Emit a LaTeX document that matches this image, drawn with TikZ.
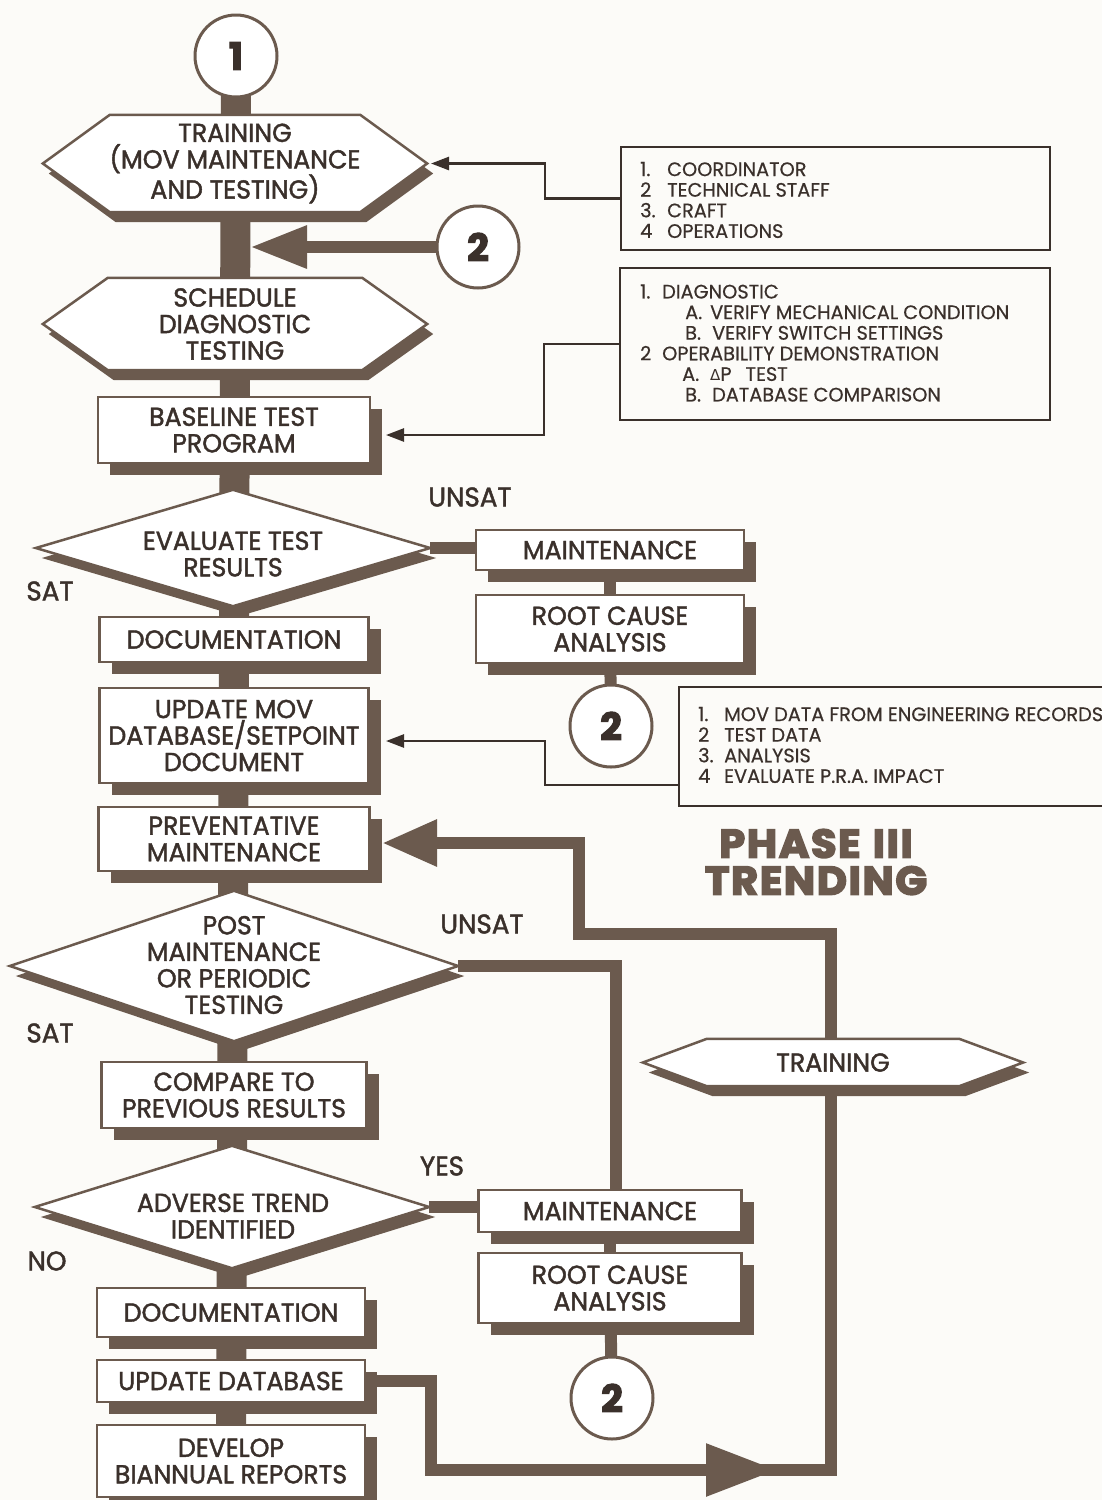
\documentclass[tikz,border=0pt]{standalone}
\usepackage{fontspec}
\usetikzlibrary{shadows,arrows.meta,calc}
\newfontfamily\bxf{Poppins}[FakeStretch=0.97,FakeBold=1.6]
\newfontfamily\lsf{Poppins}[FakeStretch=0.99,FakeBold=0.5]
\newfontfamily\phf{Poppins}[FakeStretch=1.04,FakeBold=4,LetterSpace=4]
\newfontfamily\nmf{Poppins}[FakeStretch=1.0,FakeBold=3]
\newfontfamily\grk{DejaVu Sans}
\definecolor{brn}{HTML}{6B5A4E}
\definecolor{ink}{HTML}{3A302B}
\definecolor{paper}{HTML}{FCFBF8}
\pgfdeclarelayer{bg}\pgfdeclarelayer{conn}\pgfdeclarelayer{shad}\pgfdeclarelayer{shp}
\pgfsetlayers{bg,conn,shad,shp,main}
\newcommand\hexdraw[2]{%
 \begin{pgfonlayer}{shad}
 \fill[brn,transform canvas={xshift=6pt,yshift=-10pt}] (#1.west) -- ([xshift=#2]#1.north west) -- ([xshift=-#2]#1.north east) -- (#1.east) -- ([xshift=-#2]#1.south east) -- ([xshift=#2]#1.south west) -- cycle;
 \end{pgfonlayer}
 \begin{pgfonlayer}{shp}
 \filldraw[fill=white,draw=brn,line width=2.5pt] (#1.west) -- ([xshift=#2]#1.north west) -- ([xshift=-#2]#1.north east) -- (#1.east) -- ([xshift=-#2]#1.south east) -- ([xshift=#2]#1.south west) -- cycle;
 \end{pgfonlayer}}
\newcommand\diadraw[1]{%
 \begin{pgfonlayer}{shad}
 \fill[brn,transform canvas={xshift=6pt,yshift=-10pt}] (#1.west) -- (#1.north) -- (#1.east) -- (#1.south) -- cycle;
 \end{pgfonlayer}
 \begin{pgfonlayer}{shp}
 \filldraw[fill=white,draw=brn,line width=2.5pt] (#1.west) -- (#1.north) -- (#1.east) -- (#1.south) -- cycle;
 \end{pgfonlayer}}
\tikzset{
 sz/.style 2 args={minimum width=#1pt,minimum height=#2pt},
 bx0/.style={inner sep=0pt, text=ink, align=center, font=\bxf\fontsize{26}{26.5}\selectfont},
 rbox/.style={bx0, draw=brn, fill=white, line width=2.5pt,
   general shadow={fill=brn, shadow xshift=12pt, shadow yshift=-12pt}},
 hexn/.style={bx0},
 dshape/.style={inner sep=0pt},
 circ/.style={circle, draw=brn, fill=white, line width=3pt, minimum size=82pt, inner sep=0pt,
   text=ink, font=\nmf\bfseries\fontsize{38}{38}\selectfont},
 lbl/.style={inner sep=0pt, text=ink, font=\bxf\fontsize{27}{27}\selectfont},
 tbox/.style={draw=ink, line width=2.3pt, inner sep=0pt},
 ltxt/.style={inner sep=0pt, text=ink, align=left, font=\lsf\fontsize{19.5}{20.6}\selectfont},
 spine/.style={draw=brn, line width=30pt},
 thk/.style={draw=brn, line width=12pt},
 thn/.style={draw=ink, line width=2.5pt},
}
\begin{document}
\begin{tikzpicture}[x=1pt,y=-1pt]
\useasboundingbox (0,0) rectangle (1102,1500);
\begin{pgfonlayer}{bg}\fill[paper] (0,0) rectangle (1102,1500);\end{pgfonlayer}
% ---------- main column ----------
\node[circ] (c1) at (236,56) {1};
\node[hexn, sz={384}{97}] (hexT) at (235,163.5) {TRAINING\\(MOV MAINTENANCE\\AND TESTING)};
\node[circ] (c2a) at (478,247) {2};
\node[hexn, sz={384}{92}] (hexS) at (235,324) {SCHEDULE\\DIAGNOSTIC\\TESTING};
\node[rbox, sz={272}{66}] (base) at (234,430) {BASELINE TEST\\PROGRAM};
\node[dshape, sz={394}{116}] (E) at (233,548) {};
\node[bx0] (Et) at (233,554) {EVALUATE TEST\\RESULTS};
\node[rbox, sz={269}{45}] (doc1) at (234,639.5) {DOCUMENTATION};
\node[rbox, sz={269}{95}] (upd1) at (234,735.5) {UPDATE MOV\\DATABASE/SETPOINT\\DOCUMENT};
\node[rbox, sz={271}{64}] (prev) at (234,839) {PREVENTATIVE\\MAINTENANCE};
\node[dshape, sz={448}{150}] (P) at (234,966) {};
\node[bx0] (Pt) at (234,965) {POST\\MAINTENANCE\\OR PERIODIC\\TESTING};
\node[rbox, sz={265}{66}] (cmp) at (234,1095) {COMPARE TO\\PREVIOUS RESULTS};
\node[dshape, sz={394}{122}] (A) at (232,1207) {};
\node[bx0] (At) at (233,1216) {ADVERSE TREND\\IDENTIFIED};
\node[rbox, sz={268}{49}] (doc2) at (231,1312.5) {DOCUMENTATION};
\node[rbox, sz={268}{42}] (upd2) at (231,1381) {UPDATE DATABASE};
\node[rbox, sz={268}{72}] (dev) at (231,1461) {DEVELOP\\BIANNUAL REPORTS};
% ---------- right column ----------
\node[rbox, sz={268}{40}] (m1) at (610,550) {MAINTENANCE};
\node[rbox, sz={268}{68}] (r1) at (610,629) {ROOT CAUSE\\ANALYSIS};
\node[circ] (c2b) at (611,726) {2};
\node[rbox, sz={263}{42}] (m2) at (610,1211) {MAINTENANCE};
\node[rbox, sz={263}{70}] (r2) at (610,1288) {ROOT CAUSE\\ANALYSIS};
\node[circ] (c2c) at (612,1398) {2};
\node[hexn, sz={380}{47}] (hexR) at (833,1062.5) {TRAINING};
\hexdraw{hexT}{67}
\hexdraw{hexS}{65}
\hexdraw{hexR}{64}
\diadraw{E}
\diadraw{P}
\diadraw{A}
% ---------- labels ----------
\node[lbl] (u1) at (470,497) {UNSAT};
\node[lbl] (s1) at (50,591) {SAT};
\node[lbl] (u2) at (482,924) {UNSAT};
\node[lbl] (s2) at (50,1033) {SAT};
\node[lbl] (y1) at (442,1166) {YES};
\node[lbl] (n1) at (47,1261) {NO};
\node[text=brn, align=center, inner sep=0pt, font=\phf\bfseries\fontsize{40}{37}\selectfont] (ph) at (816,862) {PHASE\hspace{12pt}III\\TRENDING};
% ---------- text boxes ----------
\node[tbox, sz={429}{103}] (bA) at (835.5,198.5) {};
\node[ltxt, anchor=west] (tA) at (640,200) {\makebox[27pt][l]{1.}COORDINATOR\\\makebox[27pt][l]{2}TECHNICAL STAFF\\\makebox[27pt][l]{3.}CRAFT\\\makebox[27pt][l]{4}OPERATIONS};
\node[tbox, sz={430}{152}] (bB) at (835,344) {};
\node[ltxt, anchor=west] (tB) at (640,343) {\makebox[22pt][l]{1.}DIAGNOSTIC\\
\hspace*{45pt}\makebox[25pt][l]{A.}VERIFY MECHANICAL CONDITION\\
\hspace*{45pt}\makebox[27pt][l]{B.}VERIFY SWITCH SETTINGS\\
\makebox[22pt][l]{2}OPERABILITY DEMONSTRATION\\
\hspace*{42pt}\makebox[28pt][l]{A.}{\grk\fontsize{15}{15}\selectfont Δ}P\hspace{14pt}TEST\\
\hspace*{45pt}\makebox[27pt][l]{B.}DATABASE COMPARISON};
\node[tbox, sz={431}{119}] (bC) at (894.5,746.5) {};
\node[ltxt, anchor=west] (tC) at (698,745) {\makebox[26pt][l]{1.}MOV DATA FROM ENGINEERING RECORDS\\\makebox[26pt][l]{2}TEST DATA\\\makebox[26pt][l]{3.}ANALYSIS\\\makebox[26pt][l]{4}EVALUATE P.R.A. IMPACT};
% ---------- coordinates ----------
\coordinate (j1) at (250,247);
\coordinate (tgA) at (431,163.5);
\coordinate (tgB) at (386,435);
\coordinate (tgC) at (386,741);
\coordinate (sC) at (679,785);
\coordinate (q1) at (431,1381);
\coordinate (q2) at (431,1470);
\coordinate (j2) at (777,1470);
\coordinate (q3) at (831,1470);
\coordinate (k1) at (831,934);
\coordinate (k2) at (579,934);
\coordinate (k3) at (579,843);
\coordinate (pt) at (382,843);
% ---------- connectors ----------
\begin{pgfonlayer}{conn}
\draw[spine] (c1.center) -- (dev.center);
\draw[thk,-{Triangle[length=57pt,width=40pt]}] (c2a) -- (j1);
\draw[thk] (E.east) -- (E.east -| m1.west);
\draw[thk] (m1.center) -- (r1.center);
\draw[thk] (r1.center) -- (c2b.center);
\draw[thk] (P.east) -| ([xshift=6pt]m2.north);
\draw[thk] (A.east) -- (A.east -| m2.west);
\draw[thk] (m2.center) -- (r2.center);
\draw[thk] (r2.center) -- (c2c.center);
\draw[thk,-{Triangle[length=71pt,width=50pt]}] (upd2.east) -- (q1) -- (q2) -- (j2);
\draw[thk] ([xshift=-20pt]j2) -- (q3) -- (q3 |- hexR.south);
\draw[thk,-{Triangle[length=55pt,width=44pt]}] (k1 |- hexR.north) -- (k1) -- (k2) -- (k3) -- (pt);
\draw[thn,-{Triangle[length=18pt,width=13pt]}] (bA.west) -- ++(-75,0) |- (tgA);
\draw[thn,-{Triangle[length=18pt,width=13pt]}] (bB.west) -- ++(-75,0) |- (tgB);
\draw[thn,-{Triangle[length=18pt,width=13pt]}] (sC) -- ++(-134,0) |- (tgC);
\end{pgfonlayer}
\end{tikzpicture}
\end{document}
